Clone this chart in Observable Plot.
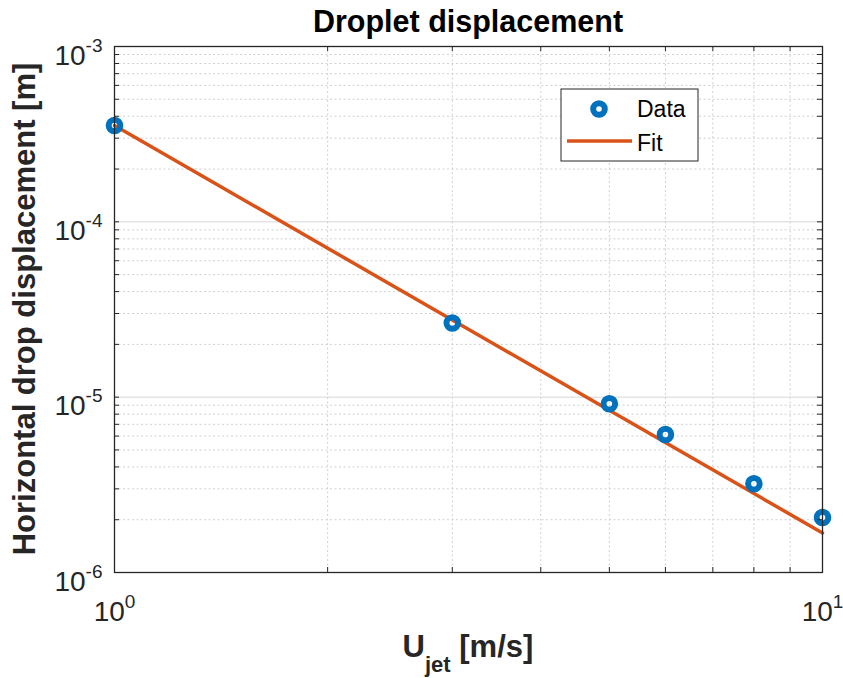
<!DOCTYPE html>
<html><head><meta charset="utf-8">
<script src="https://cdn.jsdelivr.net/npm/d3@7"></script>
<script src="https://cdn.jsdelivr.net/npm/@observablehq/plot@0.6"></script>
<style>
html,body{margin:0;padding:0;background:#fff;}
#chart{width:843px;height:678px;}
</style></head><body><div id="chart"></div>
<script>
// ---- chart content ----
const titleText = "Droplet displacement";
const yLabelText = "Horizontal drop displacement [m]";
const xLabelMain = "U", xLabelSub = "jet", xLabelRest = " [m/s]";
const legendLabels = ["Data", "Fit"];

// measured data (jet speed [m/s], displacement [m])
const speed = [1, 3, 5, 6, 8, 10];
const displacement = [3.54e-4, 2.65e-5, 9.17e-6, 6.12e-6, 3.21e-6, 2.06e-6];

// fitted power-law line endpoints
const fitSpeed = [1, 10];
const fitDisplacement = [3.54e-4, 1.68e-6];

// ticks
const xTicks = [1, 10];
const xTickLabels = ["10^0", "10^1"];
const yTicks = [1e-6, 1e-5, 1e-4, 1e-3];
const yTickLabels = ["10^-6", "10^-5", "10^-4", "10^-3"];
const minorMultipliers = [2, 3, 4, 5, 6, 7, 8, 9];

// ---- build ----
const W = 843, H = 678, mL = 114, mR = 21, mT = 46, mB = 106;
const innerW = W - mL - mR, innerH = H - mT - mB;
const tickLen = 5;
const axisColor = "#262626";

const xMinor = minorMultipliers.slice();
const yMinor = [];
yTicks.slice(0, -1).forEach(d => minorMultipliers.forEach(m => yMinor.push(d * m)));

const data = speed.map((x, i) => ({x, y: displacement[i]}));
const fitData = fitSpeed.map((x, i) => ({x, y: fitDisplacement[i]}));

const plot = Plot.plot({
  width: W, height: H,
  marginLeft: mL, marginRight: mR, marginTop: mT, marginBottom: mB,
  style: {fontFamily: "'Liberation Sans', Arial, Helvetica, sans-serif", background: "#fff", color: axisColor, overflow: "visible"},
  x: {type: "log", domain: [1, 10]},
  y: {type: "log", domain: [1e-6, 1e-3]},
  marks: [
    Plot.ruleX(xMinor, {stroke: "#d0d0d0", strokeDasharray: "2,2.5", strokeWidth: 1}),
    Plot.ruleY(yMinor, {stroke: "#d0d0d0", strokeDasharray: "2,2.5", strokeWidth: 1}),
    Plot.ruleY(yTicks, {stroke: "#d6d6d6", strokeWidth: 1}),
    Plot.line(fitData, {x: "x", y: "y", stroke: "#D95319", strokeWidth: 3.5}),
    Plot.dot(data, {x: "x", y: "y", r: 5.8, stroke: "#0072BD", strokeWidth: 6, fill: "none"}),
    Plot.frame({stroke: axisColor, strokeWidth: 1.3}),
    Plot.tickX([...xTicks, ...xMinor], {x: d => d, stroke: axisColor, insetTop: innerH - tickLen}),
    Plot.tickX([...xTicks, ...xMinor], {x: d => d, stroke: axisColor, insetBottom: innerH - tickLen}),
    Plot.tickY([...yTicks, ...yMinor], {y: d => d, stroke: axisColor, insetRight: innerW - tickLen}),
    Plot.tickY([...yTicks, ...yMinor], {y: d => d, stroke: axisColor, insetLeft: innerW - tickLen}),
    Plot.axisX(xTicks, {anchor: "bottom", tickSize: 0, tickPadding: 0, label: null,
      tickFormat: d => xTickLabels[xTicks.indexOf(d)]}),
    Plot.axisY(yTicks, {anchor: "left", tickSize: 0, tickPadding: 12, label: null,
      tickFormat: d => yTickLabels[yTicks.indexOf(d)]})
  ]
});
document.getElementById("chart").appendChild(plot);

const svg = d3.select(plot);

// superscript tick labels
function superscript(sel, mainSize, supSize, dyMain, dySup) {
  sel.each(function() {
    const t = d3.select(this);
    const s = t.text();
    const [base, exp] = s.split("^");
    t.text(null).attr("y", null).attr("dy", null);
    t.append("tspan").attr("font-size", mainSize).attr("dy", dyMain).text(base);
    t.append("tspan").attr("font-size", supSize).attr("dy", dySup).text(exp);
  });
}
superscript(svg.selectAll('g[aria-label="x-axis tick label"] text'), 28, 19, 48, -13);
superscript(svg.selectAll('g[aria-label="y-axis tick label"] text'), 28, 19, 18, -13);
svg.selectAll('g[aria-label="x-axis tick label"], g[aria-label="y-axis tick label"]').attr("fill", axisColor);

const font = "'Liberation Sans', Arial, Helvetica, sans-serif";
const cx = mL + innerW / 2, cy = mT + innerH / 2;

// title
svg.append("text").attr("x", cx).attr("y", 32).attr("text-anchor", "middle")
  .attr("font-family", font).attr("font-weight", "bold").attr("font-size", 30.5)
  .attr("fill", "#000").text(titleText);

// x label
const xl = svg.append("text").attr("x", cx).attr("y", 657).attr("text-anchor", "middle")
  .attr("font-family", font).attr("font-weight", "bold").attr("font-size", 31).attr("fill", axisColor);
xl.append("tspan").text(xLabelMain);
xl.append("tspan").attr("font-size", 22).attr("dy", 15).text(xLabelSub);
xl.append("tspan").attr("dy", -15).text(xLabelRest);

// y label
svg.append("text").attr("transform", `translate(35,${cy}) rotate(-90)`).attr("text-anchor", "middle")
  .attr("font-family", font).attr("font-weight", "bold").attr("font-size", 31).attr("fill", axisColor)
  .text(yLabelText);

// legend
const lg = svg.append("g").attr("font-family", font).attr("font-size", 23).attr("fill", "#000")
  .attr("text-anchor", "start");
lg.append("rect").attr("x", 561).attr("y", 89).attr("width", 137).attr("height", 72)
  .attr("fill", "#fff").attr("stroke", axisColor).attr("stroke-width", 1);
lg.append("circle").attr("cx", 599).attr("cy", 109).attr("r", 5.8)
  .attr("fill", "none").attr("stroke", "#0072BD").attr("stroke-width", 6);
lg.append("text").attr("x", 637).attr("y", 117).text(legendLabels[0]);
lg.append("line").attr("x1", 567).attr("x2", 632).attr("y1", 141).attr("y2", 141)
  .attr("stroke", "#D95319").attr("stroke-width", 3.5);
lg.append("text").attr("x", 637).attr("y", 151).text(legendLabels[1]);
</script>
</body></html>
